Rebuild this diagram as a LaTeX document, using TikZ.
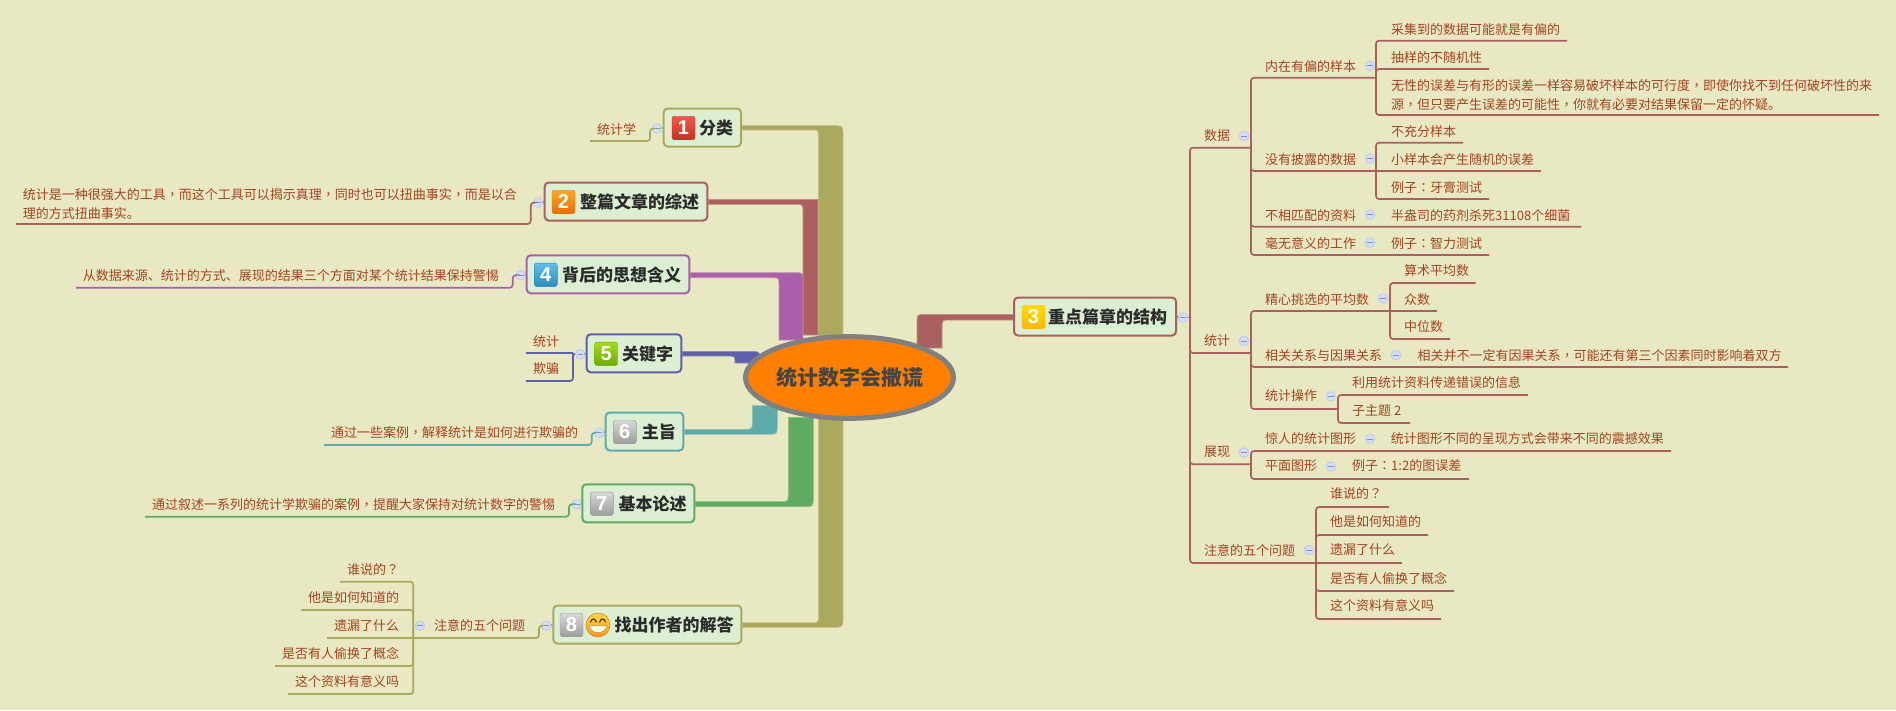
\documentclass[tikz,border=0pt]{standalone}
\usepackage{fontspec}
\usetikzlibrary{shapes.geometric}
\setmainfont{Noto Sans CJK SC}
\newfontfamily\digfont{Liberation Sans}
\newfontfamily\tcp{Noto Sans CJK TC}
\newcommand{\pc}[1]{{\tcp #1}}
\definecolor{bgc}{HTML}{E8E9C3}
\definecolor{boxc}{HTML}{DCEFD2}
\definecolor{txtc}{HTML}{A5431F}
\definecolor{olv}{HTML}{ABA95D}
\definecolor{red5}{HTML}{AB5F5F}
\definecolor{pur}{HTML}{AB5FAB}
\definecolor{blu}{HTML}{5F5FAB}
\definecolor{tea}{HTML}{5FABAB}
\definecolor{grn}{HTML}{5FAB5F}
\definecolor{rootf}{HTML}{FF8000}
\definecolor{rootd}{HTML}{808080}
\definecolor{roott}{HTML}{444444}
\definecolor{miniF}{HTML}{D3DFF7}
\definecolor{miniD}{HTML}{BFCDEE}
\definecolor{miniL}{HTML}{7F92BE}
\definecolor{bat}{HTML}{F0584A}\definecolor{bab}{HTML}{C9301F}
\definecolor{bbt}{HTML}{FFA81F}\definecolor{bbb}{HTML}{E56D0B}
\definecolor{bct}{HTML}{FFE000}\definecolor{bcb}{HTML}{FFB400}
\definecolor{bdt}{HTML}{60C0E8}\definecolor{bdb}{HTML}{2C8CBC}
\definecolor{bet}{HTML}{A8DC20}\definecolor{beb}{HTML}{6CAC00}
\definecolor{bgt}{HTML}{D8D8D8}\definecolor{bgb}{HTML}{9C9C9C}
\definecolor{emoT}{HTML}{FFD84A}\definecolor{emoB}{HTML}{F5981C}\definecolor{emoD}{HTML}{E08A10}
\pgfdeclarelayer{bg}
\pgfsetlayers{bg,main}
\tikzset{
  lf/.style={anchor=west,inner sep=0pt,text=txtc,font=\fontsize{13}{18.4}\selectfont,align=left},
  topicbox/.style={draw=#1,fill=boxc,line width=2,rounded corners=4,minimum height=38,inner sep=0pt},
  badge/.style={rounded corners=2.5,minimum width=23,minimum height=23.5,inner sep=0pt,text=white,font=\digfont\bfseries\fontsize{20}{20}\selectfont},
  toptxt/.style={anchor=west,inner sep=0pt,text=black!83,font=\bfseries\fontsize{17}{17}\selectfont},
  mini/.style={circle,draw=miniD,fill=miniF,line width=1,minimum size=9.5,inner sep=0pt},
  cn/.style={draw=#1,line width=1.7,rounded corners=3},
  band/.style={fill=#1,draw=#1!65!bgc,line width=.6},
}
% name, x, ytext, yline, xline, text
\newcommand{\lfn}[6]{\node[lf] (#1) at (#2,#3) {#6};\coordinate (#1-u) at (#5,#4);}
% name, x, y
\newcommand{\mn}[3]{\node[mini] (#1) at (#2,#3) {};\draw[miniL,line width=.9] ([xshift=-2.8]#1.center) -- ([xshift=2.8]#1.center);}
% name, x0, x1, yc, colour, badge x0, top, bottom, digit
\newcommand{\tpc}[9]{\node[topicbox=#5,minimum width={#3-#2}] (#1) at ({(#2+#3)/2},#4) {};
  \node[badge,draw=#8,top color=#7,bottom color=#8] (#1b) at (#6+11.5,#4+.5) {#9};}
\begin{document}
\begin{tikzpicture}[x=1pt,y=-1pt]
\useasboundingbox (0,0) rectangle (1896,710);
\begin{pgfonlayer}{bg}
\fill[bgc] (0,0) rectangle (1896,710);
\end{pgfonlayer}

% centre
\node[ellipse,draw=rootd,fill=rootf,line width=5,minimum width=208,minimum height=81.7,inner sep=0pt,text=roott,font=\bfseries\fontsize{21}{21}\selectfont] (root) at (849.5,377.5) {统计数字会撒谎};

% topics
\tpc{n1}{663.7}{741}{127.5}{olv}{672}{bat}{bab}{1}
\node[toptxt] (n1t) at (699,128) {分类};
\tpc{n2}{544.7}{707.3}{201.5}{red5}{552}{bbt}{bbb}{2}
\node[toptxt] (n2t) at (580,202) {整篇文章的综述};
\tpc{n3}{1014}{1176}{316.5}{red5}{1022}{bct}{bcb}{3}
\node[toptxt] (n3t) at (1048,317) {重点篇章的结构};
\tpc{n4}{526.7}{689.3}{274.3}{pur}{534.3}{bdt}{bdb}{4}
\node[toptxt] (n4t) at (562,275) {背后的思想含义};
\tpc{n5}{586.7}{681.3}{353.3}{blu}{594.7}{bet}{beb}{5}
\node[toptxt] (n5t) at (622,354) {关键字};
\tpc{n6}{605.7}{683.3}{431.5}{tea}{613.3}{bgt}{bgb}{6}
\node[toptxt] (n6t) at (641.7,432) {主旨};
\tpc{n7}{582.3}{694.3}{503.3}{grn}{590.3}{bgt}{bgb}{7}
\node[toptxt] (n7t) at (618.3,504) {基本论述};
\tpc{n8}{553.3}{741.4}{624.5}{olv}{560}{bgt}{bgb}{8}
\node[toptxt] (n8t) at (614.5,625) {找出作者的解答};
% emoji
\node[circle,draw=emoD,line width=.6,top color=emoT,bottom color=emoB,minimum size=24,inner sep=0pt] (emo) at (598,625) {};
\draw[black!70!orange,line width=1.1,line cap=round] (590.5,622) .. controls (592,618) and (595,618) .. (596.3,622);
\draw[black!70!orange,line width=1.1,line cap=round] (599.7,622) .. controls (601,618) and (604,618) .. (605.5,622);
\fill[white,draw=emoD,line width=.5] (589,625.5) .. controls (591,635) and (605,635) .. (607,625.5) -- cycle;

% fat bands
\begin{pgfonlayer}{bg}
\path[band=olv] (n1.east |- 0,125.7) -- (833,125.7) .. controls (843,125.7) .. (843,135.7) -- (843,617.3) .. controls (843,627.3) .. (833,627.3) -- (n8.east |- 0,627.3) -- (n8.east |- 0,622.7) -- (810.6,622.7) .. controls (818.6,622.7) .. (818.6,614.7) -- (818.6,138) .. controls (818.6,130) .. (810.6,130) -- (n1.east |- 0,130) -- cycle;
\path[band=red5] (n2.east |- 0,199.3) -- (818,199.3) -- (818,335) -- (803,335) -- (803,212.3) .. controls (803,204.3) .. (795,204.3) -- (n2.east |- 0,204.3) -- cycle;
\path[band=pur] (n4.east |- 0,272.7) -- (795,272.7) .. controls (803,272.7) .. (803,280.7) -- (803,340) -- (779,340) -- (779,285.7) .. controls (779,277.7) .. (771,277.7) -- (n4.east |- 0,277.7) -- cycle;
\path[band=blu] (n5.east |- 0,351.3) -- (750,351.3) .. controls (758,351.3) .. (761,356) -- (768,363) -- (735,363) .. controls (735,356) .. (726,356) -- (n5.east |- 0,356) -- cycle;
\path[band=tea] (n6.east |- 0,429.3) -- (744,429.3) .. controls (752.3,429.3) .. (752.3,421) -- (752.3,405.7) -- (777.3,405.7) -- (777.3,425) .. controls (777.3,434.3) .. (768,434.3) -- (n6.east |- 0,434.3) -- cycle;
\path[band=grn] (n7.east |- 0,501.7) -- (780,501.7) .. controls (788.3,501.7) .. (788.3,493) -- (788.3,417.3) -- (813.3,417.3) -- (813.3,497) .. controls (813.3,506.7) .. (804,506.7) -- (n7.east |- 0,506.7) -- cycle;
\path[band=red5] (n3.west |- 0,314.3) -- (926,314.3) .. controls (917,314.3) .. (917,323) -- (917,348) -- (942,348) -- (942,328) .. controls (942,320) .. (950,320) -- (n3.west |- 0,320) -- cycle;
\end{pgfonlayer}

% left side
\mn{i1}{657}{128.6}
\draw[cn=olv] (n1.west) -- (i1.east);
\lfn{a1}{597}{129}{141}{590}{统计学}
\coordinate (a1k) at (650,141);
\draw[cn=olv] (i1.west) -| (a1k) -- (a1-u);

\mn{i2}{538}{202.7}
\draw[cn=red5] (n2.west) -- (i2.east);
\lfn{a2}{22.7}{204}{224}{16}{统计是一种很强大的工具\pc{，}而这个工具可以揭示真理\pc{，}同时也可以扭曲事实\pc{，}而是以合\\理的方式扭曲事实。}
\coordinate (a2k) at (530.7,224);
\draw[cn=red5] (i2.west) -| (a2k) -- (a2-u);

\mn{i4}{520.7}{275.3}
\draw[cn=pur] (n4.west) -- (i4.east);
\lfn{a4}{82.7}{276}{287.7}{76}{从数据来源、统计的方式、展现的结果三个方面对某个统计结果保持警惕}
\coordinate (a4k) at (512.7,287.7);
\draw[cn=pur] (i4.west) -| (a4k) -- (a4-u);

\mn{i5}{580.3}{354.3}
\draw[cn=blu] (n5.west) -- (i5.east);
\lfn{a51}{533}{341.7}{353}{526}{统计}
\lfn{a52}{533}{369}{381}{526}{欺骗}
\coordinate (a5j) at (573,354);
\coordinate (a5k) at (573,353);
\draw[cn=blu] (i5.west) -- (a5j);
\draw[cn=blu] (a5k) -- (a51-u);
\draw[cn=blu] (a5k) |- (a52-u);

\mn{i6}{599.3}{432.7}
\draw[cn=tea] (n6.west) -- (i6.east);
\lfn{a6}{331}{432.3}{445}{324}{通过一些案例\pc{，}解释统计是如何进行欺骗的}
\coordinate (a6k) at (591.7,445);
\draw[cn=tea] (i6.west) -| (a6k) -- (a6-u);

\mn{i7}{576.7}{504.3}
\draw[cn=grn] (n7.west) -- (i7.east);
\lfn{a7}{152}{504.3}{516.7}{145}{通过叙述一系列的统计学欺骗的案例\pc{，}提醒大家保持对统计数字的警惕}
\coordinate (a7k) at (569,516.7);
\draw[cn=grn] (i7.west) -| (a7k) -- (a7-u);

\mn{i8}{546.3}{625.7}
\draw[cn=olv] (n8.west) -- (i8.east);
\lfn{a8}{434}{625.7}{638}{413.3}{注意的五个问题}
\coordinate (a8k) at (539,638);
\draw[cn=olv] (i8.west) -| (a8k) -- (a8-u);
\mn{i81}{420}{625.7}
\lfn{a81}{347}{569.3}{581.7}{340}{谁说的\pc{？}}
\lfn{a82}{308}{597.7}{610}{301.4}{他是如何知道的}
\lfn{a83}{334}{625.7}{638}{327}{遗漏了什么}
\lfn{a84}{282}{653.7}{666}{275}{是否有人偷换了概念}
\lfn{a85}{295}{681.7}{694}{288}{这个资料有意义吗}
\draw[cn=olv] (a8-u) |- (a81-u);
\draw[cn=olv] (a8-u) |- (a82-u);
\draw[cn=olv] (a8-u) -- (a83-u);
\draw[cn=olv] (a8-u) |- (a84-u);
\draw[cn=olv] (a8-u) |- (a85-u);

% right side
\mn{i3}{1183}{317.5}
\draw[cn=red5] (n3.east) -- (i3.west);
\coordinate (j3) at (1190,317.5);
\draw[cn=red5] (i3.east) -- (j3);

% data
\lfn{d}{1204}{136}{147.7}{1251}{数据}
\mn{id}{1244}{136}
\draw[cn=red5] (j3) |- (d-u);
\lfn{d1}{1265}{66.7}{77.7}{1376}{内在有偏的样本}
\mn{id1}{1370}{65.7}
\draw[cn=red5] (d-u) |- (d1-u);
\lfn{d11}{1391}{29.3}{40.7}{1567}{采集到的数据可能就是有偏的}
\lfn{d12}{1391}{57.3}{69}{1489}{抽样的不随机性}
\lfn{d13}{1391}{95}{115}{1879}{无性的误差与有形的误差一样容易破坏样本的可行度\pc{，}即使你找不到任何破坏性的来\\源\pc{，}但只要产生误差的可能性\pc{，}你就有必要对结果保留一定的怀疑。}
\draw[cn=red5] (d1-u) |- (d11-u);
\draw[cn=red5] (d1-u) |- (d12-u);
\draw[cn=red5] (d1-u) |- (d13-u);
\lfn{d2}{1265}{159.3}{171}{1376}{没有披露的数据}
\mn{id2}{1370}{158.7}
\draw[cn=red5] (d-u) |- (d2-u);
\lfn{d21}{1391}{131.7}{142.7}{1463}{不充分样本}
\lfn{d22}{1391}{159.3}{171}{1541}{小样本会产生随机的误差}
\lfn{d23}{1391}{187.3}{199}{1489}{例子\pc{：}牙膏测试}
\draw[cn=red5] (d2-u) |- (d21-u);
\draw[cn=red5] (d2-u) -- (d22-u);
\draw[cn=red5] (d2-u) |- (d23-u);
\lfn{d3}{1265}{215.3}{226.7}{1376}{不相匹配的资料}
\mn{id3}{1370}{214.7}
\lfn{d31}{1391}{215.3}{226.7}{1581}{半盎司的药剂杀死31108个细菌}
\draw[cn=red5] (d-u) |- (d3-u) -- (d31-u);
\lfn{d4}{1265}{243.3}{255}{1376}{毫无意义的工作}
\mn{id4}{1370}{242.7}
\lfn{d41}{1391}{243.3}{255}{1489}{例子\pc{：}智力测试}
\draw[cn=red5] (d-u) |- (d4-u) -- (d41-u);

% statistics
\lfn{s}{1204}{341}{353}{1251}{统计}
\mn{is}{1244}{341}
\draw[cn=red5] (j3) |- (s-u);
\lfn{s1}{1265}{299.3}{311}{1390}{精心挑选的平均数}
\mn{is1}{1383}{298.5}
\draw[cn=red5] (s-u) |- (s1-u);
\lfn{s11}{1404}{271}{283}{1475.7}{算术平均数}
\lfn{s12}{1404}{299.3}{311}{1436.7}{众数}
\lfn{s13}{1404}{327}{339}{1450}{中位数}
\draw[cn=red5] (s1-u) |- (s11-u);
\draw[cn=red5] (s1-u) -- (s12-u);
\draw[cn=red5] (s1-u) |- (s13-u);
\lfn{s2}{1265}{355.3}{367}{1403}{相关关系与因果关系}
\mn{is2}{1396}{355}
\lfn{s21}{1417.3}{355.3}{367}{1788}{相关并不一定有因果关系\pc{，}可能还有第三个因素同时影响着双方}
\draw[cn=red5] (s-u) |- (s2-u) -- (s21-u);
\lfn{s3}{1265}{396}{409}{1338}{统计操作}
\mn{is3}{1331}{396.5}
\draw[cn=red5] (s-u) |- (s3-u);
\lfn{s31}{1352}{383}{395}{1528}{利用统计资料传递错误的信息}
\lfn{s32}{1352}{410.3}{423}{1410}{子主题 2}
\draw[cn=red5] (s3-u) |- (s31-u);
\draw[cn=red5] (s3-u) |- (s32-u);

% presentation
\lfn{p}{1204}{452}{464.3}{1251}{展现}
\mn{ip}{1244}{452.5}
\draw[cn=red5] (j3) |- (p-u);
\lfn{p1}{1265}{439}{451}{1377}{惊人的统计图形}
\mn{ip1}{1370}{439}
\lfn{p11}{1390.7}{439}{451}{1671}{统计图形不同的呈现方式会带来不同的震撼效果}
\draw[cn=red5] (p-u) |- (p1-u) -- (p11-u);
\lfn{p2}{1265}{466}{479}{1338}{平面图形}
\mn{ip2}{1331}{466.5}
\lfn{p21}{1352}{466}{479}{1469}{例子\pc{：}1:2的图误差}
\draw[cn=red5] (p-u) |- (p2-u) -- (p21-u);

% five questions
\lfn{q}{1204}{550}{563}{1316}{注意的五个问题}
\mn{iq}{1309}{550}
\draw[cn=red5] (j3) |- (q-u);
\lfn{q1}{1330}{494}{507}{1389}{谁说的\pc{？}}
\lfn{q2}{1330}{522}{535}{1428}{他是如何知道的}
\lfn{q3}{1330}{550}{563}{1402}{遗漏了什么}
\lfn{q4}{1330}{578}{591}{1454}{是否有人偷换了概念}
\lfn{q5}{1330}{606}{619}{1441}{这个资料有意义吗}
\draw[cn=red5] (q-u) |- (q1-u);
\draw[cn=red5] (q-u) |- (q2-u);
\draw[cn=red5] (q-u) -- (q3-u);
\draw[cn=red5] (q-u) |- (q4-u);
\draw[cn=red5] (q-u) |- (q5-u);
\end{tikzpicture}
\end{document}
